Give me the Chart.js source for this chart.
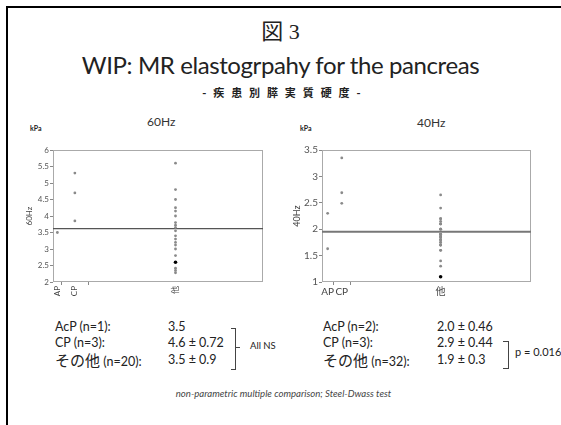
<!DOCTYPE html>
<html>
<head>
<meta charset="utf-8">
<script src="https://cdn.jsdelivr.net/npm/chart.js@4/dist/chart.umd.min.js"></script>
<style>
  body { margin:0; width:561px; height:425px; position:relative; background:#fff; overflow:hidden;
         font-family: Lato, "Noto Sans CJK JP", sans-serif; color:#222; }
  .t { position:absolute; white-space:nowrap; }
  .c { left:0; width:561px; text-align:center; }
  .jp { font-family:"Noto Sans CJK JP", sans-serif; font-size:15px; }
  canvas { position:absolute; }
</style>
</head>
<body>
<div style="position:absolute;left:6px;top:6px;width:600px;height:500px;border-top:2px solid #000;border-left:2px solid #000;"></div>

<div class="t c" style="top:20px;font-size:22px;line-height:24px;font-family:'Liberation Serif','Noto Sans CJK JP',serif;">図&nbsp;3</div>
<div class="t c" style="top:50px;font-size:24px;line-height:30px;letter-spacing:-0.4px;">WIP: MR elastogrpahy for the pancreas</div>
<div class="t c" style="top:85px;left:2px;font-size:11px;line-height:14px;font-weight:bold;letter-spacing:2.2px;font-family:'Noto Sans CJK JP',sans-serif;">- 疾 患 別 膵 実 質 硬 度 -</div>

<div class="t" style="left:30px;top:124px;font-size:7px;font-weight:bold;">kPa</div>
<div class="t" style="left:300px;top:124px;font-size:7px;font-weight:bold;">kPa</div>
<div class="t" style="left:147px;top:114px;font-size:12px;color:#333;">60Hz</div>
<div class="t" style="left:417px;top:115px;font-size:12px;color:#333;">40Hz</div>

<canvas id="chart60" width="255" height="165" style="left:15px;top:140px;"></canvas>
<canvas id="chart40" width="255" height="165" style="left:285px;top:140px;"></canvas>

<!-- summary rows -->
<div class="t" style="left:55px;top:319px;font-size:12.5px;line-height:16px;">AcP (n=1):</div>
<div class="t" style="left:55px;top:335px;font-size:12.5px;line-height:16px;">CP (n=3):</div>
<div class="t" style="left:55px;top:351px;font-size:12.5px;line-height:18px;"><span class="jp">その他</span> (n=20):</div>
<div class="t" style="left:168px;top:319px;font-size:12.5px;line-height:16px;">3.5</div>
<div class="t" style="left:168px;top:335px;font-size:12.5px;line-height:16px;">4.6 ± 0.72</div>
<div class="t" style="left:168px;top:352px;font-size:12.5px;line-height:16px;">3.5 ± 0.9</div>
<div style="position:absolute;left:231px;top:328px;width:4px;height:40px;border:1px solid #444;border-left:none;"></div>
<div style="position:absolute;left:236px;top:347px;width:4px;height:1px;background:#444;"></div>
<div class="t" style="left:250px;top:340px;font-size:9.5px;line-height:12px;">All NS</div>

<div class="t" style="left:323px;top:319px;font-size:12.5px;line-height:16px;">AcP (n=2):</div>
<div class="t" style="left:323px;top:335px;font-size:12.5px;line-height:16px;">CP (n=3):</div>
<div class="t" style="left:323px;top:351px;font-size:12.5px;line-height:18px;"><span class="jp">その他</span> (n=32):</div>
<div class="t" style="left:437px;top:319px;font-size:12.5px;line-height:16px;">2.0 ± 0.46</div>
<div class="t" style="left:437px;top:335px;font-size:12.5px;line-height:16px;">2.9 ± 0.44</div>
<div class="t" style="left:437px;top:352px;font-size:12.5px;line-height:16px;">1.9 ± 0.3</div>
<div style="position:absolute;left:503px;top:341px;width:5px;height:26px;border:1px solid #444;border-left:none;"></div>
<div class="t" style="left:515px;top:346px;font-size:11px;line-height:12px;">p = 0.016</div>

<div class="t" style="left:3px;width:561px;text-align:center;top:388px;font-size:9.6px;line-height:12px;font-style:italic;color:#444;">non-parametric multiple comparison; Steel-Dwass test</div>

<script>
// --- data (kPa) ---
const GROUPS = ['AP', 'CP', '他'];

const AP_60 = [3.5];
const CP_60 = [5.3, 4.7, 3.85];
const OTHER_60 = [5.6, 4.8, 4.5, 4.25, 4.15, 4.0, 3.8, 3.72, 3.65, 3.55,
                  3.4, 3.3, 3.2, 3.12, 3.0, 2.8, 2.6, 2.42, 2.35, 2.28];
const MEAN_60 = 3.62;
const HILITE_60 = 2.6;
const Y_TICKS_60 = [2, 2.5, 3, 3.5, 4, 4.5, 5, 5.5, 6];

const AP_40 = [2.3, 1.63];
const CP_40 = [3.35, 2.69, 2.49];
const OTHER_40 = [2.65, 2.4, 2.2, 2.2, 2.15, 2.1, 2.1, 2.1, 2.0, 2.0,
                  2.0, 1.9, 1.9, 1.9, 1.9, 1.85, 1.85, 1.85, 1.8, 1.8,
                  1.8, 1.75, 1.75, 1.7, 1.7, 1.7, 1.6, 1.6, 1.4, 1.3,
                  1.1, 1.9];
const MEAN_40 = 1.95;
const HILITE_40 = 1.1;
const Y_TICKS_40 = [1, 1.5, 2, 2.5, 3, 3.5];

// box around the plot area
const frameBox = {
  id: 'frameBox',
  beforeDatasetsDraw(chart) {
    const { ctx, chartArea: a } = chart;
    ctx.save();
    ctx.strokeStyle = '#aaa';
    ctx.lineWidth = 1;
    ctx.strokeRect(a.left + 0.5, a.top + 0.5, a.right - a.left - 1, a.bottom - a.top - 1);
    ctx.restore();
  }
};

function makeChart(id, groups, ticksY, mean, hilite, o) {
  // JMP style: each group gets width proportional to its size
  let acc = 0;
  const centers = [], bounds = [], pts = [], colors = [], radii = [];
  groups.forEach((vals, gi) => {
    const c = acc + vals.length / 2;
    centers.push(c);
    vals.forEach(v => {
      pts.push({ x: c, y: v });
      const hi = gi === groups.length - 1 && v === hilite;
      colors.push(hi ? '#000' : '#8a8a8a');
      radii.push(hi ? 1.8 : 1.4);
    });
    acc += vals.length;
    if (gi < groups.length - 1) bounds.push(acc);
  });
  const total = acc;
  const labelAt = v => {
    const i = centers.indexOf(v);
    return i >= 0 ? GROUPS[i] : '';
  };

  return new Chart(document.getElementById(id), {
    type: 'scatter',
    data: {
      datasets: [
        { data: pts, pointBackgroundColor: colors, pointBorderWidth: 0, pointRadius: radii },
        { type: 'line', data: [{ x: 0, y: mean }, { x: total, y: mean }],
          borderColor: o.lineColor, borderWidth: o.lineWidth, pointRadius: 0 }
      ]
    },
    options: {
      responsive: false, animation: false,
      layout: { autoPadding: false, padding: { top: 10, left: o.padLeft, right: o.padRight, bottom: 0 } },
      plugins: { legend: { display: false }, tooltip: { enabled: false } },
      scales: {
        x: {
          type: 'linear', min: 0, max: total,
          afterBuildTicks: s => { s.ticks = centers.concat(bounds).sort((a, b) => a - b).map(v => ({ value: v })); },
          afterFit: s => { s.height = 23; },
          border: { display: false },
          grid: { drawOnChartArea: false, tickLength: 3,
                  tickColor: c => (c.tick && bounds.includes(c.tick.value)) ? '#888' : 'rgba(0,0,0,0)' },
          ticks: { callback: labelAt, autoSkip: false, padding: 1,
                   minRotation: o.rot, maxRotation: o.rot,
                   font: { family: 'Lato, "Noto Sans CJK JP", sans-serif', size: o.xFont }, color: '#444' }
        },
        y: {
          min: ticksY[0], max: ticksY[ticksY.length - 1],
          afterBuildTicks: s => { s.ticks = ticksY.map(v => ({ value: v })); },
          afterFit: s => { s.width = o.yWidth; },
          border: { display: false },
          grid: { drawOnChartArea: false, tickLength: 3, tickColor: '#888' },
          ticks: { padding: 1, callback: v => String(v),
                   font: { family: 'Lato, sans-serif', size: o.yFont }, color: '#555' },
          title: { display: true, text: o.title, padding: 0,
                   font: { family: 'Lato, sans-serif', size: o.titleFont }, color: '#444' }
        }
      }
    },
    plugins: [frameBox]
  });
}

makeChart('chart60', [AP_60, CP_60, OTHER_60], Y_TICKS_60, MEAN_60, HILITE_60,
  { padLeft: 10, padRight: 7, yWidth: 28, rot: 90, xFont: 8, yFont: 8, title: '60Hz', titleFont: 8,
    lineColor: '#555', lineWidth: 1.2 });
makeChart('chart40', [AP_40, CP_40, OTHER_40], Y_TICKS_40, MEAN_40, HILITE_40,
  { padLeft: 7, padRight: 9, yWidth: 30, rot: 0, xFont: 10, yFont: 10, title: '40Hz', titleFont: 9,
    lineColor: '#777', lineWidth: 2 });
</script>
</body>
</html>
